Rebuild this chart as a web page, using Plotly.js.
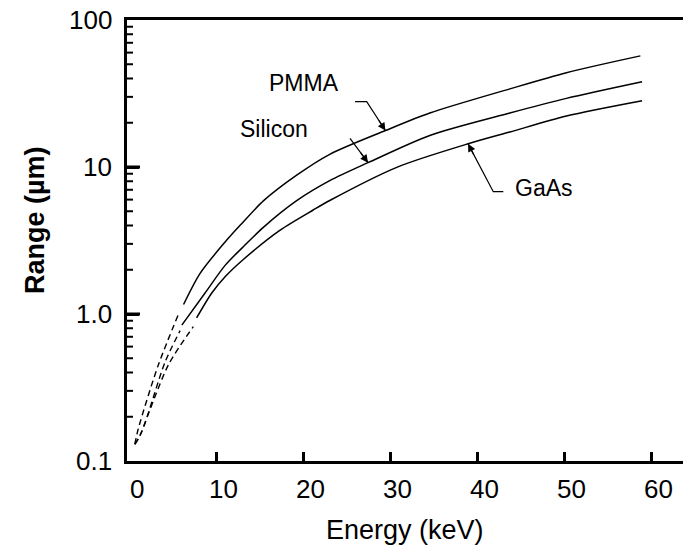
<!DOCTYPE html>
<html>
<head>
<meta charset="utf-8">
<script src="https://cdn.plot.ly/plotly-3.0.1.min.js"></script>
<style>html,body{margin:0;padding:0;background:#fff;}#chart{width:683px;height:547px;}</style>
</head>
<body>
<div id="chart"></div>
<script>
// ---- data ----
const pmmaDashX = [0.6, 1.0, 3.3, 5.6];
const pmmaDashY = [0.13, 0.166, 0.45, 0.99];
const pmmaX = [6.2, 8.1, 11.0, 12.7, 15.4, 19.2, 23.0, 29.4, 34.5, 43.7, 50.2, 58.7];
const pmmaY = [1.16, 1.89, 3.10, 4.01, 5.9, 8.8, 12.2, 17.7, 23.3, 34.0, 43.8, 57.0];

const siDashX = [0.6, 1.4, 4.07, 5.8];
const siDashY = [0.13, 0.158, 0.47, 0.77];
const siX = [6.0, 8.67, 11.0, 13.07, 15.4, 19.2, 23.0, 27.4, 34.5, 43.7, 50.2, 58.9];
const siY = [0.84, 1.39, 2.15, 2.87, 3.9, 5.9, 8.07, 10.7, 16.4, 23.3, 29.3, 38.0];

const gaasDashX = [0.6, 1.0, 4.45, 7.32];
const gaasDashY = [0.13, 0.141, 0.45, 0.82];
const gaasX = [7.7, 9.44, 11.0, 13.07, 17.3, 21.1, 23.0, 30.7, 39.1, 43.7, 50.2, 58.9];
const gaasY = [0.94, 1.39, 1.80, 2.35, 3.72, 5.1, 5.92, 9.95, 14.5, 17.3, 22.2, 28.2];

const seriesNames = ['PMMA', 'Silicon', 'GaAs'];
const xTickVals = [0, 10, 20, 30, 40, 50, 60];
const xTickText = ['0', '10', '20', '30', '40', '50', '60'];
const yTickVals = [0.1, 1, 10, 100];
const yTickText = ['0.1', '1.0', '10', '100'];
const xTitle = 'Energy (keV)';
const yTitle = 'Range (µm)';

// ---- layout helpers ----
const W = 683, H = 547, ML = 127, MR = 0, MT = 20, MB = 86;
const PW = W - ML - MR, PH = H - MT - MB;
const XR = [-0.3, 63.6], YR = [-1, 2];
const XPX = PW / (XR[1] - XR[0]);              // pixels per x unit
const px = p => (p - ML) / PW;                 // pixel -> paper x
const py = p => (H - MB - p) / PH;             // pixel -> paper y
const dx2p = x => (x - XR[0]) / (XR[1] - XR[0]);
const dy2p = y => (Math.log10(y) - YR[0]) / (YR[1] - YR[0]);
function interpLog(xs, ys, x) {
  for (let i = 0; i < xs.length - 1; i++) {
    if (x >= xs[i] && x <= xs[i + 1]) {
      const t = (x - xs[i]) / (xs[i + 1] - xs[i]);
      return Math.pow(10, Math.log10(ys[i]) + t * (Math.log10(ys[i + 1]) - Math.log10(ys[i])));
    }
  }
  return ys[ys.length - 1];
}

const lineSolid = {color: '#000', width: 1.5, shape: 'spline', smoothing: 0.8};
const lineDash = {color: '#000', width: 1.4, dash: '6px,4px', shape: 'spline', smoothing: 0.8};

// y tick marks (inside the frame), drawn as short segments in axis coordinates
function tickSegments(vals, lenPx) {
  const xs = [], ys = [];
  vals.forEach(v => { xs.push(XR[0], XR[0] + lenPx / XPX, null); ys.push(v, v, null); });
  return {xs, ys};
}
const majorInner = yTickVals.slice(1, -1);
const minorVals = [];
[0.1, 1, 10].forEach(d => { for (let k = 2; k <= 9; k++) minorVals.push(d * k); });
const majSeg = tickSegments(majorInner, 13);
const minSeg = tickSegments(minorVals, 6);

const traces = [
  {x: pmmaDashX, y: pmmaDashY, mode: 'lines', line: lineDash, name: seriesNames[0] + ' (extrap.)'},
  {x: pmmaX, y: pmmaY, mode: 'lines', line: lineSolid, name: seriesNames[0]},
  {x: siDashX, y: siDashY, mode: 'lines', line: lineDash, name: seriesNames[1] + ' (extrap.)'},
  {x: siX, y: siY, mode: 'lines', line: lineSolid, name: seriesNames[1]},
  {x: gaasDashX, y: gaasDashY, mode: 'lines', line: lineDash, name: seriesNames[2] + ' (extrap.)'},
  {x: gaasX, y: gaasY, mode: 'lines', line: lineSolid, name: seriesNames[2]},
  {x: majSeg.xs, y: majSeg.ys, mode: 'lines', line: {color: '#000', width: 3}, cliponaxis: false, hoverinfo: 'skip', name: 'y major ticks'},
  {x: minSeg.xs, y: minSeg.ys, mode: 'lines', line: {color: '#000', width: 2}, cliponaxis: false, hoverinfo: 'skip', name: 'y minor ticks'}
];

const FONT = 'Liberation Sans, Arial, Helvetica, sans-serif';

const shapes = [];
const annotations = [];

// leader lines with arrowheads pointing at the curves
function leader(xs, ys, xTip, startPx, cornerPx) {
  const yTip = interpLog(xs, ys, xTip);
  const tx = dx2p(xTip), ty = dy2p(yTip);
  shapes.push({
    type: 'path', xref: 'paper', yref: 'paper',
    path: `M ${px(startPx[0])} ${py(startPx[1])} L ${px(cornerPx[0])} ${py(cornerPx[1])} L ${tx} ${ty}`,
    line: {color: '#000', width: 1.2}
  });
  const tipPxX = ML + tx * PW, tipPxY = H - MB - ty * PH;
  const dxp = cornerPx[0] - tipPxX, dyp = cornerPx[1] - tipPxY;
  const len = Math.hypot(dxp, dyp);
  annotations.push({
    x: tx, y: ty, xref: 'paper', yref: 'paper', text: '', showarrow: true,
    arrowhead: 2, arrowsize: 1.3, arrowwidth: 1.2, arrowcolor: '#000',
    ax: dxp / len * 14, ay: dyp / len * 14
  });
}
leader(pmmaX, pmmaY, 29.4, [355, 101.7], [366.7, 101.7]);
leader(siX, siY, 27.4, [350, 138.3], [350, 138.3]);
leader(gaasX, gaasY, 38.9, [503.3, 191.7], [493.3, 191.7]);

function textAnn(text, cx, cy, size) {
  return {
    x: px(cx), y: py(cy), xref: 'paper', yref: 'paper', xanchor: 'center', yanchor: 'middle',
    text: text, showarrow: false, font: {family: FONT, size: size, color: '#000'}
  };
}
annotations.push(textAnn(seriesNames[0], 304, 83, 23));
annotations.push(textAnn(seriesNames[1], 274, 129, 23));
annotations.push(textAnn(seriesNames[2], 544, 188, 23));

// tick labels
xTickVals.forEach((v, i) => annotations.push({
  x: v, y: py(489), xref: 'x', yref: 'paper', xanchor: 'center', yanchor: 'middle', xshift: 7,
  text: xTickText[i], showarrow: false, font: {family: FONT, size: 26, color: '#000'}
}));
yTickVals.forEach((v, i) => annotations.push({
  x: px(114), y: Math.log10(v), xref: 'paper', yref: 'y', xanchor: 'right', yanchor: 'middle',
  text: yTickText[i], showarrow: false, font: {family: FONT, size: 26, color: '#000'}
}));

// axis titles
annotations.push(textAnn(xTitle, 405, 530, 27));
annotations.push({
  x: px(35), y: py(220), xref: 'paper', yref: 'paper', xanchor: 'center', yanchor: 'middle',
  text: '<b>' + yTitle + '</b>', textangle: -90, showarrow: false,
  font: {family: FONT, size: 27, color: '#000'}
});

const layout = {
  width: W, height: H,
  margin: {l: ML, r: MR, t: MT, b: MB, pad: 0},
  paper_bgcolor: '#fff', plot_bgcolor: '#fff',
  showlegend: false,
  xaxis: {
    range: XR, tickmode: 'array', tickvals: xTickVals.slice(1), showticklabels: false,
    ticks: 'inside', ticklen: 9, tickwidth: 3, tickcolor: '#000',
    showline: true, linewidth: 3, linecolor: '#000', mirror: true,
    showgrid: false, zeroline: false
  },
  yaxis: {
    type: 'log', range: YR, tickmode: 'array', tickvals: yTickVals, showticklabels: false,
    ticks: 'inside', ticklen: 12, tickwidth: 3, tickcolor: '#000',
    showline: true, linewidth: 3, linecolor: '#000',
    showgrid: false, zeroline: false
  },
  annotations: annotations,
  shapes: shapes
};

Plotly.newPlot('chart', traces, layout, {displayModeBar: false, staticPlot: true});
</script>
</body>
</html>
